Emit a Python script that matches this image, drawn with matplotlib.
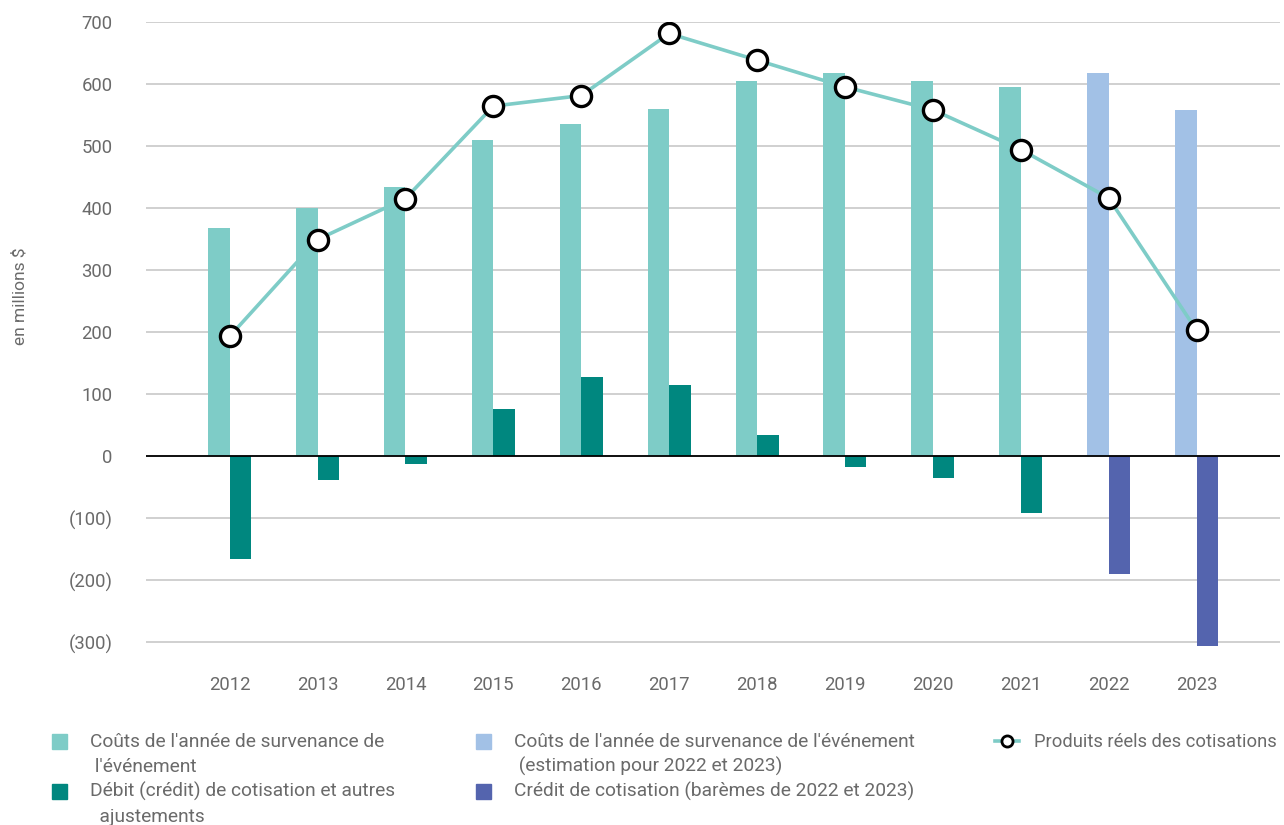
import matplotlib
matplotlib.use('Agg')
import matplotlib.pyplot as plt
from matplotlib.patches import Rectangle
from matplotlib.lines import Line2D
from matplotlib import font_manager as fm
import numpy as np

# ---- data ----
years = ['2012', '2013', '2014', '2015', '2016', '2017', '2018', '2019', '2020', '2021', '2022', '2023']
costs_actual = [368, 399, 434, 510, 535, 560, 604, 617, 604, 595]          # 2012-2021
costs_estimate = [617, 557]                                                # 2022-2023
adjustments = [-165, -39, -12, 76, 128, 115, 34, -17, -35, -91]           # 2012-2021
premium_credit = [-190, -306]                                              # 2022-2023
premiums = [193, 349, 415, 564, 581, 681, 638, 595, 558, 494, 416, 203]    # 2012-2023
yticks = [-300, -200, -100, 0, 100, 200, 300, 400, 500, 600, 700]

legend_labels = [
    "Coûts de l'année de survenance de\n l'événement",
    "Débit (crédit) de cotisation et autres\n  ajustements",
    "Coûts de l'année de survenance de l'événement\n (estimation pour 2022 et 2023)",
    "Crédit de cotisation (barèmes de 2022 et 2023)",
    "Produits réels des cotisations",
]

C_LT = '#7ECCC7'
C_DT = '#00877F'
C_LB = '#A2C1E6'
C_DB = '#5464AE'
TXT = '#6a6a6a'

names = {f.name for f in fm.fontManager.ttflist}
FAM = ['Roboto', 'DejaVu Sans'] if 'Roboto' in names else ['DejaVu Sans']
plt.rcParams['font.family'] = FAM
WEIGHT = 'normal'
FS = 13.3

W, H = 1284, 825
fig = plt.figure(figsize=(W / 100, H / 100), dpi=100)
ax = fig.add_axes([146 / W, 1 - 648.5 / H, (1280 - 146) / W, (648.5 - 21.7) / H])

x_all = np.arange(len(years))
n_act = len(costs_actual)
x_act = x_all[:n_act]
x_est = x_all[n_act:]
bw = 0.245

ax.bar(x_act - bw / 2, costs_actual, width=bw, color=C_LT, zorder=2)
ax.bar(x_est - bw / 2, costs_estimate, width=bw, color=C_LB, zorder=2)
ax.bar(x_act + bw / 2, adjustments, width=bw, color=C_DT, zorder=2)
ax.bar(x_est + bw / 2, premium_credit, width=bw, color=C_DB, zorder=2, clip_on=False)
ax.axhline(0, color='black', lw=1.3, zorder=3)
ax.plot(x_all, premiums, color=C_LT, lw=2.6, marker='o', markersize=14.5,
        markerfacecolor='white', markeredgecolor='black', markeredgewidth=2.4, zorder=4)

ax.set_xlim(-0.952, 11.95)
ax.set_ylim(-310, 700)
ax.set_yticks(yticks)
ax.set_yticklabels([f'({abs(v)})' if v < 0 else str(v) for v in yticks])
ax.set_xticks(x_all)
ax.set_xticklabels(years)
ax.tick_params(axis='y', length=0, pad=24, labelsize=FS, labelcolor=TXT)
ax.tick_params(axis='x', length=0, pad=20, labelsize=FS, labelcolor=TXT)
for lab in ax.get_xticklabels() + ax.get_yticklabels():
    lab.set_fontweight(WEIGHT)
ax.grid(axis='y', color='#C8C8C8', lw=1.2, zorder=0)
ax.set_axisbelow(True)
for s in ax.spines.values():
    s.set_visible(False)

fig.text(20 / W, 1 - 296 / H, 'en millions $', rotation=90, ha='center', va='center',
         fontsize=12.5, color=TXT, fontweight=WEIGHT)

# ---- legend ----
def fx(px):
    return px / W

def fy(py):
    return 1 - py / H

def square(x0, yc, color):
    fig.patches.append(Rectangle((fx(x0), fy(yc + 7.5)), 14.5 / W, 15 / H,
                                 transform=fig.transFigure, color=color, figure=fig))

def label(x0, yc, txt, fs=13.8):
    fig.text(fx(x0), fy(yc), txt, ha='left', va='baseline', fontsize=fs, color=TXT,
             fontweight=WEIGHT)

entries = [(52, 90, 741, C_LT, legend_labels[0]),
           (52, 90, 791, C_DT, legend_labels[1]),
           (476, 514, 741, C_LB, legend_labels[2]),
           (476, 514, 791, C_DB, legend_labels[3])]
for sx, tx, yc, col, txt in entries:
    square(sx, yc, col)
    lines = txt.split('\n')
    for i, ln in enumerate(lines):
        label(tx, yc + 6 + i * 25, ln)

fig.lines.append(Line2D([fx(995), fx(1019)], [fy(741), fy(741)], transform=fig.transFigure,
                        color=C_LT, lw=2.6, figure=fig))
fig.lines.append(Line2D([fx(1007)], [fy(741)], transform=fig.transFigure, marker='o',
                        markersize=8, markerfacecolor='white', markeredgecolor='black',
                        markeredgewidth=2, figure=fig))
label(1034, 747, legend_labels[4], fs=13.2)

fig.savefig('out.png', dpi=100)
